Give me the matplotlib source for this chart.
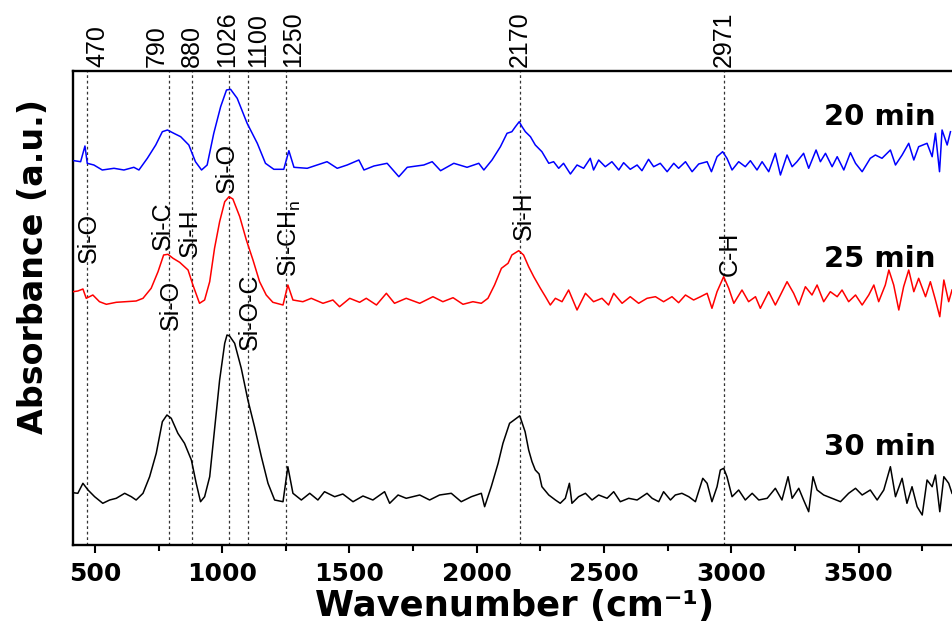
import matplotlib
matplotlib.use('Agg')
import matplotlib.pyplot as plt
from matplotlib.ticker import MultipleLocator
from matplotlib import font_manager

# ---------------- data (arbitrary absorbance units incl. offsets) ----
wn_20 = [418, 444, 461, 470, 496, 529, 575, 614, 653, 673, 706, 739, 765, 785, 810, 837, 869,
         895, 919, 941, 967, 994, 1017, 1033, 1059, 1098, 1138, 1170, 1203, 1242, 1262, 1282,
         1334, 1412, 1452, 1491, 1537, 1557, 1596, 1648, 1694, 1727, 1792, 1825, 1858, 1910,
         1962, 2008, 2028, 2060, 2093, 2119,
         2138, 2152, 2167, 2178, 2191, 2211, 2230, 2256, 2283, 2302, 2322, 2341, 2368, 2394,
         2420, 2446, 2459, 2479, 2505, 2531, 2558, 2577, 2603, 2630, 2649, 2675, 2695, 2721,
         2748, 2774, 2793, 2820, 2846, 2872, 2905, 2922, 2944, 2966, 2983, 3003, 3029, 3055,
         3075, 3101, 3121, 3147, 3173, 3193, 3219, 3239, 3258, 3284, 3304, 3333, 3350, 3370,
         3396, 3416, 3442, 3468, 3488, 3514, 3546, 3566, 3592, 3625, 3645, 3671, 3697, 3717,
         3736, 3769, 3789, 3802, 3818, 3828, 3848, 3861]
abs_20 = [3.843, 3.833, 3.99, 3.817, 3.80, 3.75, 3.767, 3.75, 3.777, 3.75, 3.867, 4.0, 4.133,
          4.15, 4.117, 4.083, 4.0, 3.833, 3.75, 3.80, 4.117, 4.383, 4.55, 4.557, 4.467, 4.217,
          4.017, 3.817, 3.757, 3.757, 3.943, 3.777, 3.767, 3.833, 3.767, 3.80, 3.85, 3.75,
          3.79, 3.817, 3.683, 3.777, 3.80, 3.833, 3.743, 3.817, 3.777, 3.817, 3.75, 3.85,
          3.983, 4.117,
          4.133, 4.183, 4.233, 4.183, 4.133, 4.083, 4.0, 3.933, 3.817, 3.833, 3.767, 3.817,
          3.71, 3.80, 3.767, 3.867, 3.75, 3.85, 3.783, 3.833, 3.75, 3.823, 3.757, 3.80, 3.743,
          3.857, 3.783, 3.817, 3.733, 3.817, 3.767, 3.833, 3.733, 3.81, 3.833, 3.733, 3.883,
          3.933, 3.867, 3.75, 3.833, 3.783, 3.843, 3.75, 3.833, 3.733, 3.917, 3.70, 3.90,
          3.783, 3.833, 3.917, 3.767, 3.95, 3.833, 3.917, 3.783, 3.883, 3.75, 3.923, 3.817,
          3.733, 3.867, 3.90, 3.867, 3.95, 3.80, 3.90, 4.017, 3.85, 3.983, 4.017, 3.883, 4.117,
          3.733, 4.15, 4.0, 4.133]

wn_25 = [414, 433, 453, 466, 492, 518, 545, 584, 623, 662, 689, 721, 748, 770, 787, 807, 833,
         866, 885, 911, 931, 951, 970, 990, 1010, 1027, 1042, 1069, 1095, 1121, 1147, 1173,
         1199, 1239, 1258, 1278, 1317, 1350, 1396, 1435, 1461, 1501, 1540, 1566, 1606, 1645,
         1677, 1723, 1776, 1828, 1867, 1907, 1946, 1985, 2018, 2044, 2070, 2097, 2123,
         2138, 2165, 2184, 2204, 2224, 2250, 2270, 2289, 2309, 2335, 2361, 2394, 2427, 2459,
         2492, 2518, 2538, 2571, 2603, 2636, 2669, 2702, 2734, 2767, 2793, 2820, 2852, 2879,
         2905, 2924, 2944, 2970, 2990, 3010, 3042, 3068, 3095, 3114, 3147, 3173, 3193, 3219,
         3245, 3265, 3291, 3317, 3337, 3363, 3389, 3416, 3435, 3461, 3488, 3514, 3540, 3560,
         3579, 3605, 3619, 3638, 3658, 3677, 3697, 3717, 3736, 3763, 3782, 3802, 3819, 3835,
         3854, 3867]
abs_25 = [2.533, 2.54, 2.56, 2.467, 2.50, 2.433, 2.407, 2.427, 2.433, 2.44, 2.467, 2.567, 2.733,
          2.90, 2.907, 2.867, 2.827, 2.75, 2.60, 2.417, 2.45, 2.633, 2.967, 3.233, 3.433, 3.483,
          3.46, 3.283, 3.05, 2.85, 2.633, 2.50, 2.427, 2.40, 2.60, 2.45, 2.433, 2.467, 2.417,
          2.45, 2.383, 2.467, 2.427, 2.467, 2.40, 2.517, 2.417, 2.467, 2.417, 2.483, 2.433,
          2.473, 2.407, 2.433, 2.417, 2.467, 2.60, 2.767, 2.817,
          2.90, 2.943, 2.90, 2.783, 2.683, 2.567, 2.483, 2.40, 2.467, 2.433, 2.55, 2.35, 2.517,
          2.433, 2.467, 2.40, 2.517, 2.417, 2.483, 2.417, 2.467, 2.483, 2.433, 2.483, 2.423,
          2.50, 2.45, 2.483, 2.517, 2.367, 2.533, 2.683, 2.567, 2.417, 2.55, 2.433, 2.483,
          2.367, 2.533, 2.40, 2.50, 2.633, 2.517, 2.40, 2.583, 2.50, 2.60, 2.433, 2.533, 2.483,
          2.55, 2.433, 2.50, 2.40, 2.50, 2.60, 2.433, 2.60, 2.75, 2.60, 2.35, 2.583, 2.75,
          2.533, 2.667, 2.483, 2.633, 2.45, 2.283, 2.65, 2.433, 2.55]

wn_30 = [414, 433, 453, 473, 499, 531, 558, 584, 617, 643, 662, 689, 715, 741, 765, 783, 800,
         826, 852, 879, 898, 915, 931, 951, 970, 990, 1010, 1019, 1029, 1049, 1075, 1101, 1127,
         1154, 1180, 1206, 1239, 1258, 1278, 1311, 1344, 1376, 1402, 1442, 1474, 1514, 1553,
         1592, 1638, 1658, 1691, 1723, 1776, 1815, 1854, 1900, 1939, 1979, 2018, 2031, 2057,
         2084, 2103, 2129, 2141, 2169, 2190, 2204, 2217, 2230, 2245, 2256, 2283, 2309, 2328,
         2348, 2364, 2374, 2400, 2427, 2453, 2479, 2512, 2538, 2564, 2597, 2630, 2669, 2689,
         2715, 2734, 2761, 2780, 2806, 2833, 2859, 2888, 2905, 2924, 2944, 2957, 2970, 2983,
         3003, 3029, 3055, 3082, 3108, 3141, 3173, 3199, 3223, 3239, 3265, 3284, 3304, 3321,
         3337, 3363, 3396, 3429, 3461, 3488, 3514, 3546, 3573, 3599, 3625, 3645, 3671, 3690,
         3710, 3730, 3750, 3769, 3789, 3802, 3819, 3835, 3854, 3867]
abs_30 = [0.523, 0.517, 0.617, 0.55, 0.483, 0.417, 0.45, 0.467, 0.517, 0.483, 0.45, 0.517,
          0.683, 0.917, 1.233, 1.30, 1.267, 1.117, 1.017, 0.85, 0.617, 0.433, 0.483, 0.683,
          1.15, 1.65, 2.017, 2.10, 2.09, 2.017, 1.767, 1.45, 1.183, 0.883, 0.617, 0.45, 0.433,
          0.783, 0.517, 0.45, 0.517, 0.45, 0.533, 0.483, 0.51, 0.433, 0.49, 0.45, 0.533, 0.417,
          0.50, 0.467, 0.50, 0.45, 0.50, 0.517, 0.433, 0.483, 0.517, 0.383, 0.583, 0.817,
          1.017, 1.217, 1.239, 1.292, 1.133, 0.95, 0.834, 0.75, 0.71, 0.583, 0.50, 0.45, 0.417,
          0.467, 0.617, 0.417, 0.483, 0.517, 0.45, 0.50, 0.467, 0.533, 0.433, 0.467, 0.45,
          0.517, 0.467, 0.433, 0.533, 0.45, 0.50, 0.517, 0.483, 0.433, 0.667, 0.617, 0.433,
          0.583, 0.75, 0.767, 0.683, 0.483, 0.55, 0.45, 0.517, 0.45, 0.467, 0.567, 0.45, 0.683,
          0.467, 0.567, 0.45, 0.333, 0.683, 0.55, 0.50, 0.467, 0.433, 0.517, 0.567, 0.50, 0.55,
          0.45, 0.55, 0.783, 0.483, 0.667, 0.417, 0.583, 0.383, 0.30, 0.65, 0.583, 0.70, 0.333,
          0.683, 0.617, 0.517]

series_names = ['20 min', '25 min', '30 min']
peak_positions = [470, 790, 880, 1026, 1100, 1250, 2170, 2971]
peak_labels = ['470', '790', '880', '1026', '1100', '1250', '2170', '2971']
bond_texts = ['Si-O', 'Si-C', 'Si-H', 'Si-O', r'Si-CH$_\mathregular{n}$', 'Si-O', 'Si-O-C',
              'Si-H', 'C-H']
bond_peaks = [470, 790, 880, 1026, 1250, 790, 1100, 2170, 2971]

# ---------------- layout / style -------------------------------------------------------
W, H, DPI = 952, 623, 100
AX_L, AX_R, AX_T, AX_B = 73, 952, 71, 545
X_MIN, X_MAX = 414, 3867
Y_MIN, Y_MAX = 0.0, 4.74

def px2pt(v):
    return v * 72.0 / DPI

def yfrac(ypx):
    return (AX_B - ypx) / (AX_B - AX_T)

installed = {f.name for f in font_manager.fontManager.ttflist}
if 'Liberation Sans Narrow' in installed:
    narrow = ['Liberation Sans Narrow', 'DejaVu Sans']
    narrow_size = 20.5
else:
    narrow = ['Liberation Sans', 'DejaVu Sans']
    narrow_size = 18
wide = ['DejaVu Sans']

fig = plt.figure(figsize=(W / DPI, H / DPI), dpi=DPI)
ax = fig.add_axes([AX_L / W, (H - AX_B) / H, (AX_R - AX_L) / W, (AX_B - AX_T) / H])

colors = ['#0000ff', '#ff0000', '#000000']
for wn, ab, c in zip([wn_20, wn_25, wn_30], [abs_20, abs_25, abs_30], colors):
    ax.plot(wn, ab, color=c, lw=1.1, zorder=3)

for p in peak_positions:
    ax.axvline(p, color='#333333', lw=0.9, ls=(0, (2.2, 2.2)), zorder=1)

ax.set_xlim(X_MIN, X_MAX)
ax.set_ylim(Y_MIN, Y_MAX)

for s in ['left', 'top', 'bottom']:
    ax.spines[s].set_linewidth(1.7)
ax.spines['right'].set_visible(False)

ax.xaxis.set_major_locator(MultipleLocator(500))
ax.xaxis.set_minor_locator(MultipleLocator(250))
ax.tick_params(axis='x', which='major', direction='out', length=6, width=1.5, pad=6,
               labelsize=18)
ax.tick_params(axis='x', which='minor', direction='out', length=4, width=1.5)
ax.tick_params(axis='x', top=False)
ax.tick_params(axis='y', left=False, labelleft=False)
for lab in ax.get_xticklabels():
    lab.set_fontfamily(wide)
    lab.set_fontweight('bold')

ax.set_xlabel('Wavenumber (cm⁻¹)', fontsize=25.5, fontweight='bold', family=wide)
ax.xaxis.set_label_coords((515 - AX_L) / (AX_R - AX_L), yfrac(589))
ax.xaxis.label.set_verticalalignment('top')
ax.set_ylabel('Absorbance (a.u.)', fontsize=24, fontweight='bold', family=wide)
ax.yaxis.set_label_coords((50 - AX_L) / (AX_R - AX_L), yfrac(266))

# top peak-position labels (horizontal offsets in px from the dotted line)
top_dx = [10, -12, 0, -2, 10, 7, 0, 0]
for p, t, dx in zip(peak_positions, peak_labels, top_dx):
    ax.annotate(t, xy=(p, 1.0), xycoords=('data', 'axes fraction'),
                xytext=(px2pt(dx), px2pt(4)), textcoords='offset points',
                rotation=90, ha='center', va='bottom', fontsize=narrow_size, family=narrow,
                annotation_clip=False)

# bond assignment labels: (dx px from line, bottom y px)
bond_dx = [2, -6, -2, -2, 4, 2, 2, 4, 6]
bond_bottom = [263, 250, 257, 193, 277, 330, 350, 240, 276]
for t, p, dx, yb in zip(bond_texts, bond_peaks, bond_dx, bond_bottom):
    ax.annotate(t, xy=(p, yfrac(yb)), xycoords=('data', 'axes fraction'),
                xytext=(px2pt(dx), 0), textcoords='offset points',
                rotation=90, ha='center', va='bottom', fontsize=narrow_size, family=narrow,
                zorder=4)

# series names
name_base = [125, 267, 455]
for n, yb in zip(series_names, name_base):
    ax.text((824 - AX_L) / (AX_R - AX_L), yfrac(yb), n, transform=ax.transAxes,
            ha='left', va='baseline', fontsize=21, fontweight='bold', family=wide,
            clip_on=False)

fig.savefig('out.png', dpi=DPI)
